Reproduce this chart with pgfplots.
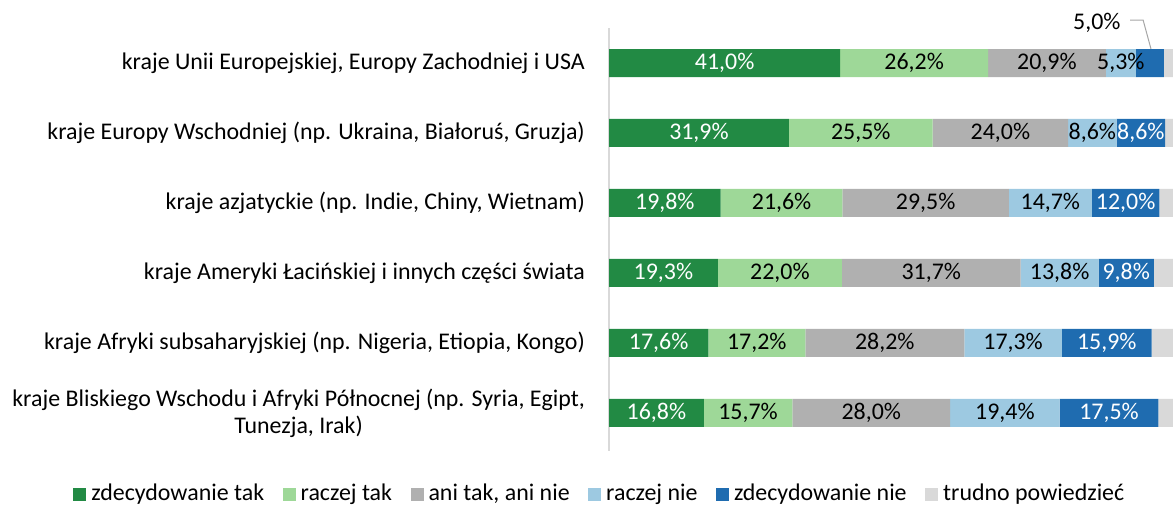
\documentclass[border=0pt]{standalone}
\usepackage{pgfplots}
\pgfplotsset{compat=1.18}
\usepackage{pgfplotstable}
\usepackage{fontspec}
\setmainfont{Carlito}
\definecolor{c1}{HTML}{228A44}
\definecolor{c2}{HTML}{9ED898}
\definecolor{c3}{HTML}{B0B0B0}
\definecolor{c4}{HTML}{9DC9E1}
\definecolor{c5}{HTML}{1F6CB0}
\definecolor{c6}{HTML}{D9D9D9}
\pgfplotstableread{
y a b c d e f
0 41.0 26.2 20.9 5.3 5.0 1.6
1 31.9 25.5 24.0 8.6 8.6 1.4
2 19.8 21.6 29.5 14.7 12.0 2.4
3 19.3 22.0 31.7 13.8 9.8 3.4
4 17.6 17.2 28.2 17.3 15.9 3.8
5 16.8 15.7 28.0 19.4 17.5 2.6
}\datatable
\newcommand{\fnt}{\fontsize{24}{27}\selectfont}
\newcommand{\pnum}[1]{\pgfmathprintnumber[fixed,fixed zerofill,precision=1,use comma,assume math mode=true]{#1}\%}
\pgfplotsset{
  lab/.style 2 args={
    point meta=\thisrow{#1},
    nodes near coords={\pnum{\pgfplotspointmeta}},
    every node near coord/.style={anchor=center, text=#2, inner sep=0pt, font=\fnt},
  },
}
\begin{document}
\fnt
\begin{tikzpicture}
\useasboundingbox (0,0) rectangle (1173bp,514bp);
\begin{axis}[
  at={(609bp,63bp)}, anchor=south west,
  scale only axis, width=564bp, height=423bp,
  xbar stacked, bar width=28bp,
  xmin=0, xmax=100,
  ymin=-0.5, ymax=5.543, y dir=reverse,
  axis x line=none, axis y line=left,
  y axis line style={-, draw=c6, line width=1.5bp},
  xtick=\empty,
  ytick={0,1,2,3,4,5},
  major tick length=0pt,
  yticklabels={
    {kraje Unii Europejskiej, Europy Zachodniej i USA},
    {kraje Europy Wschodniej (np. Ukraina, Białoruś, Gruzja)},
    {kraje azjatyckie (np. Indie, Chiny, Wietnam)},
    {kraje Ameryki Łacińskiej i innych części świata},
    {kraje Afryki subsaharyjskiej (np. Nigeria, Etiopia, Kongo)},
    {kraje Bliskiego Wschodu i Afryki Północnej (np. Syria, Egipt,\\Tunezja, Irak)}
  },
  yticklabel style={align=center, inner sep=0pt, xshift=-24bp, font=\fnt, text=black},
  clip=false,
  legend columns=6,
  legend style={draw=none, at={(-0.018,-0.1017)}, anchor=center, font=\fnt,
    nodes={inner sep=0pt},
    /tikz/every odd column/.append style={column sep=5bp},
    /tikz/every even column/.append style={column sep=18.5bp},
    inner sep=0pt},
  legend image code/.code={\fill[#1] (0bp,-6.5bp) rectangle (13bp,6.5bp);},
]
\addplot+[fill=c1, draw=none, lab={a}{white}] table[x=a, y=y] {\datatable};
\addplot+[fill=c2, draw=none, lab={b}{black}] table[x=b, y=y] {\datatable};
\addplot+[fill=c3, draw=none, lab={c}{black}] table[x=c, y=y] {\datatable};
\addplot+[fill=c4, draw=none, lab={d}{black}] table[x=d, y=y] {\datatable};
\addplot+[fill=c5, draw=none, lab={e}{white},
  visualization depends on={\thisrow{y}\as\rowy},
  nodes near coords={\ifdim\rowy pt<0.5pt \else\pnum{\pgfplotspointmeta}\fi}
  ] table[x=e, y=y] {\datatable};
\addplot+[fill=c6, draw=none] table[x=f, y=y] {\datatable};
\legend{zdecydowanie tak, raczej tak, {ani tak, ani nie}, raczej nie, zdecydowanie nie, trudno powiedzieć}
\node[anchor=center, font=\fnt, inner sep=0pt] at (axis cs:86.5,-0.571) {5,0\%};
\draw[gray!70!white, line width=1bp] (axis cs:92.4,-0.614) -- (axis cs:94.7,-0.614) -- (axis cs:96.1,-0.2);
\end{axis}
\end{tikzpicture}
\end{document}
